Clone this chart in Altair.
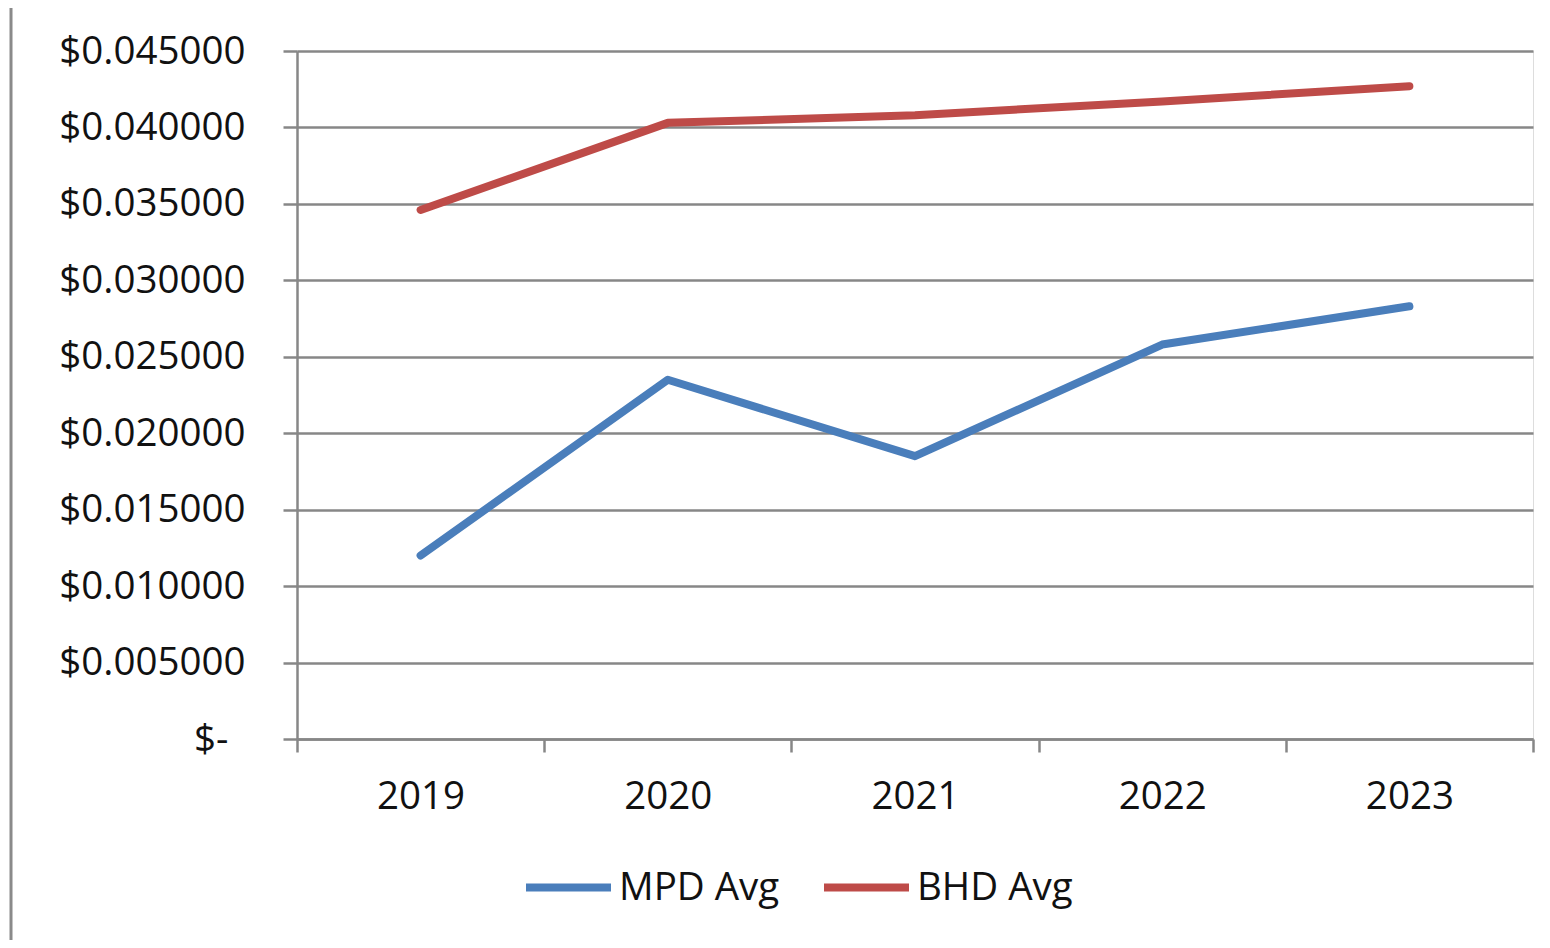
import altair as alt
import pandas as pd

years = ["2019", "2020", "2021", "2022", "2023"]
mpd_avg = [0.0120, 0.0235, 0.0185, 0.0258, 0.0283]
bhd_avg = [0.0346, 0.0403, 0.0408, 0.0417, 0.0427]
series_names = ["MPD Avg", "BHD Avg"]
series_colors = ["#4A7EBB", "#BE4B48"]
y_ticks = [round(i * 0.005, 3) for i in range(10)]

rows = []
for name, vals in zip(series_names, [mpd_avg, bhd_avg]):
    for yr, v in zip(years, vals):
        rows.append({"Year": yr, "Value": v, "Series": name})
df = pd.DataFrame(rows)

FONT = "Open Sans"
FS = 38.5
GRID = "#878787"

lines = alt.Chart(df).mark_line(strokeWidth=8, strokeCap="round", strokeJoin="round").encode(
    x=alt.X("Year:O", sort=years, bandPosition=0.5,
            scale=alt.Scale(type="band", paddingInner=0, paddingOuter=0),
            axis=alt.Axis(title=None, labelAngle=0, tickBand="extent", grid=False,
                          domainColor=GRID, domainWidth=2.5, tickColor=GRID, tickWidth=2.5,
                          tickSize=13, labelPadding=26, labelFont=FONT, labelFontSize=FS,
                          labelColor="#111")),
    y=alt.Y("Value:Q", scale=alt.Scale(domain=[0, 0.045], nice=False),
            axis=alt.Axis(title=None, values=y_ticks, grid=True, gridColor=GRID, gridWidth=2.5,
                          domainColor=GRID, domainWidth=2.5, tickColor=GRID, tickWidth=2.5,
                          tickSize=14,
                          labelPadding={"condition": {"test": "datum.value == 0", "value": 55}, "value": 38},
                          labelFont=FONT, labelFontSize=FS,
                          labelColor="#111", labelLimit=400,
                          labelExpr="datum.value == 0 ? '$-' : '$' + format(datum.value, '.6f')")),
    color=alt.Color("Series:N", sort=series_names,
                    scale=alt.Scale(domain=series_names, range=series_colors),
                    legend=alt.Legend(title=None, orient="none", legendX=225, legendY=790,
                                      direction="horizontal", symbolType="stroke",
                                      symbolStrokeWidth=8, symbolSize=7225, padding=0,
                                      labelOffset=4, columnPadding=28, labelFont=FONT,
                                      labelFontSize=FS, labelColor="#111", labelLimit=400)),
)

border = alt.Chart(pd.DataFrame({"a": [0]})).mark_rule(color="#8a8a8a", strokeWidth=3).encode(
    x=alt.value(-286), y=alt.value(-43), y2=alt.value(889)
)

chart = alt.layer(border, lines).properties(
    width=1236, height=688,
    padding={"left": 289, "top": 43, "right": 9, "bottom": 201},
    autosize=alt.AutoSizeParams(type="none"),
).configure_view(stroke=None).configure(background="white")

chart.save("out.html", embed_options={"renderer": "svg", "actions": False})
